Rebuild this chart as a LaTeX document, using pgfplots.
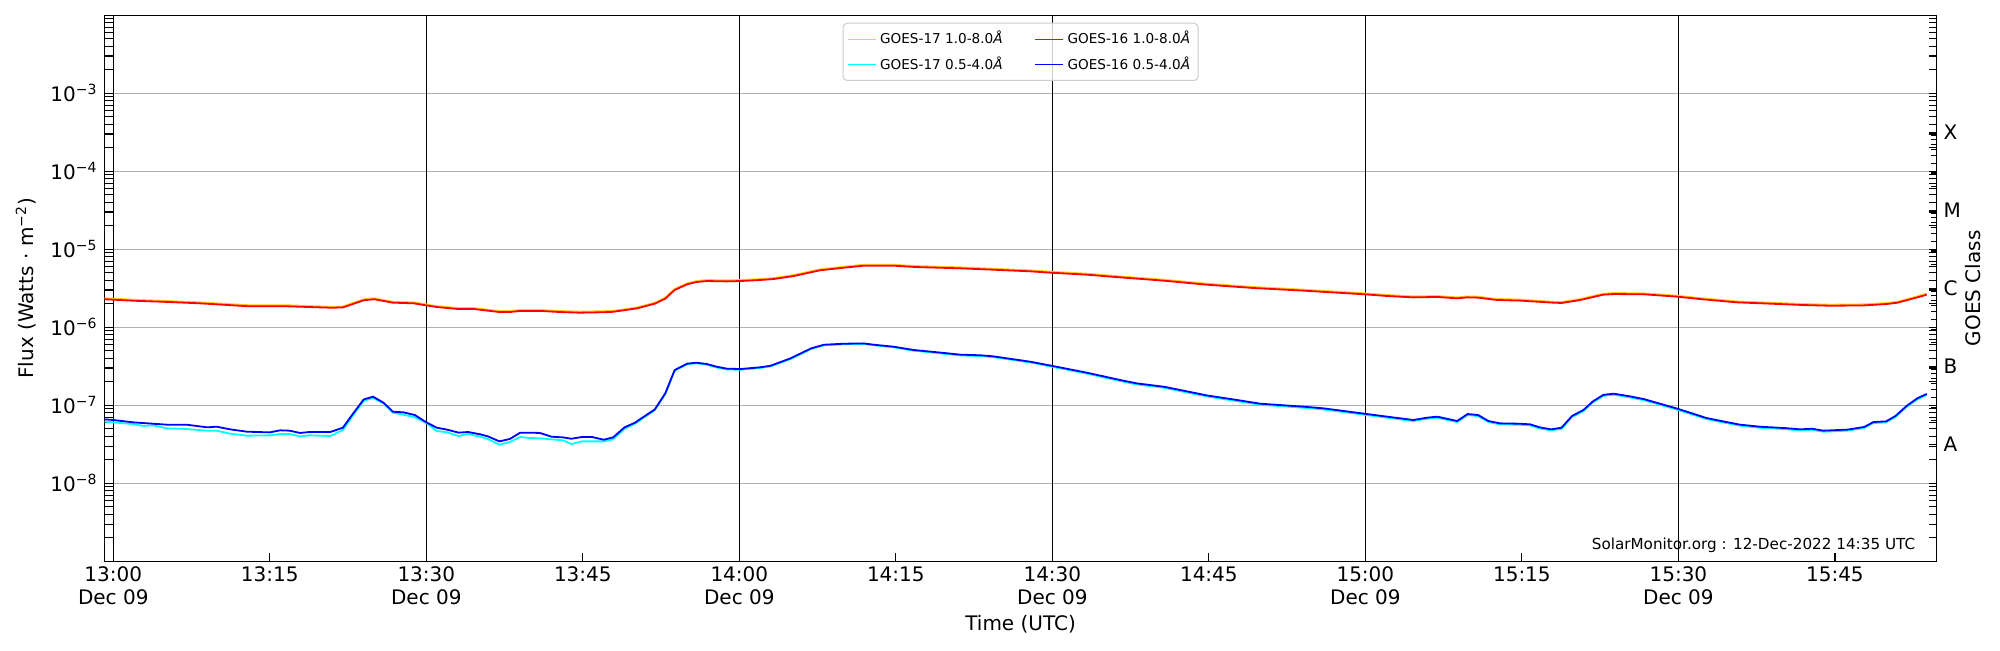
\documentclass[border=0pt]{standalone}
\usepackage{fontspec}
\setmainfont{DejaVu Sans}
\usepackage{pgfplots}
\pgfplotsset{compat=1.18}
\definecolor{gold17}{RGB}{255,205,20}
\definecolor{cyan17}{RGB}{0,255,255}
\definecolor{red16}{RGB}{255,0,0}
\definecolor{blue16}{RGB}{0,0,255}
\definecolor{gridgray}{RGB}{176,176,176}
\definecolor{legframe}{RGB}{204,204,204}

\begin{document}
\begin{tikzpicture}
\path[use as bounding box] (0,0) rectangle (1000pt,325pt);
\begin{axis}[
  at={(52.3pt,44.35pt)}, anchor=south west,
  scale only axis, width=916pt, height=273pt,
  ymode=log, ymin=1e-9, ymax=1e-2,
  xmin=-0.834, xmax=174.75,
  axis line style={line width=0.75pt},
  tick align=inside,
  major tick length=4pt, minor tick length=4pt,
  every tick/.style={black, line width=0.6pt},
  xtick={0,15,...,165},
  xticklabels={{13:00\\Dec 09},13:15,{13:30\\Dec 09},13:45,{14:00\\Dec 09},14:15,{14:30\\Dec 09},14:45,{15:00\\Dec 09},15:15,{15:30\\Dec 09},15:45},
  xtick pos=left,
  xticklabel style={align=center, font=\fontsize{10}{11.5}\selectfont, inner sep=0pt, yshift=-2.7pt},
  extra x ticks={0,30,60,90,120,150},
  extra x tick labels={},
  extra x tick style={grid=major, major grid style={black, line width=0.7pt}},
  ytick={1e-8,1e-7,1e-6,1e-5,1e-4,1e-3},
  yticklabels={10\textsuperscript{−8},10\textsuperscript{−7},10\textsuperscript{−6},10\textsuperscript{−5},10\textsuperscript{−4},10\textsuperscript{−3}},
  minor ytick={2e-9,3e-9,4e-9,5e-9,6e-9,7e-9,8e-9,9e-9,
    2e-8,3e-8,4e-8,5e-8,6e-8,7e-8,8e-8,9e-8,
    2e-7,3e-7,4e-7,5e-7,6e-7,7e-7,8e-7,9e-7,
    2e-6,3e-6,4e-6,5e-6,6e-6,7e-6,8e-6,9e-6,
    2e-5,3e-5,4e-5,5e-5,6e-5,7e-5,8e-5,9e-5,
    2e-4,3e-4,4e-4,5e-4,6e-4,7e-4,8e-4,9e-4,
    2e-3,3e-3,4e-3,5e-3,6e-3,7e-3,8e-3,9e-3},
  ytick pos=both, yticklabel pos=left,
  yticklabel style={font=\fontsize{10}{12}\selectfont},
  ymajorgrids,
  major grid style={gridgray, line width=0.7pt},
  xlabel={Time (UTC)},
  ylabel={Flux (Watts · m\textsuperscript{−2})},
  every axis x label/.style={at={(axis description cs:0.5,0)}, anchor=center, yshift=-31.6pt, font=\fontsize{10}{12}\selectfont},
  every axis y label/.style={at={(axis description cs:-0.043,0.5)}, anchor=center, rotate=90, font=\fontsize{10}{12}\selectfont},
  no markers,
  legend columns=2,
  legend cell align=left,
  legend image code/.code={\draw[#1, line width=0.5pt] (0pt,0pt) -- (14pt,0pt);},
  legend style={at={(axis description cs:0.5,0.9864)}, anchor=north,
    draw=legframe, line width=0.5pt, rounded corners=2pt,
    fill=white, fill opacity=0.8, text opacity=1,
    font=\fontsize{6.8}{8}\selectfont,
    inner xsep=2pt, inner ysep=2pt, row sep=1pt,
    /tikz/every even column/.append style={column sep=14pt}},
]
\addplot[gold17, line width=0.9pt] table {
-0.83 2.36e-6
2 2.26e-6
5 2.18e-6
8.3 2.09e-6
13 1.92e-6
16.6 1.92e-6
21 1.83e-6
22 1.85e-6
24 2.29e-6
25 2.36e-6
26.8 2.13e-6
28.8 2.09e-6
30 1.97e-6
31 1.87e-6
33 1.77e-6
34.5 1.77e-6
37 1.62e-6
38 1.62e-6
39 1.67e-6
41 1.67e-6
42.8 1.62e-6
44.7 1.59e-6
47 1.61e-6
47.9 1.63e-6
50.2 1.80e-6
51.9 2.07e-6
52.9 2.40e-6
53.8 3.10e-6
55.0 3.67e-6
55.9 3.92e-6
56.9 4.04e-6
58.8 4.00e-6
60.1 4.04e-6
62.0 4.16e-6
63.3 4.28e-6
65.2 4.68e-6
67.7 5.53e-6
70.0 5.98e-6
71.9 6.34e-6
74.8 6.34e-6
77.0 6.10e-6
81.2 5.87e-6
84.3 5.64e-6
87.9 5.38e-6
89.9 5.16e-6
93.3 4.87e-6
96.5 4.50e-6
100.7 4.08e-6
104.8 3.63e-6
109.3 3.29e-6
114.1 3.04e-6
119.9 2.73e-6
122.1 2.60e-6
124.6 2.49e-6
126.9 2.52e-6
128.8 2.42e-6
129.8 2.49e-6
130.8 2.47e-6
132.6 2.31e-6
134.8 2.27e-6
138.0 2.13e-6
138.8 2.11e-6
140.6 2.31e-6
142.8 2.70e-6
143.8 2.75e-6
146.7 2.73e-6
149.9 2.54e-6
152.4 2.35e-6
155.6 2.15e-6
158.8 2.07e-6
162.0 1.99e-6
164.6 1.95e-6
167.8 1.97e-6
170.0 2.05e-6
171.0 2.13e-6
172.9 2.49e-6
173.8 2.70e-6
};
\addlegendentry{GOES-17 1.0-8.0\textit{Å}}
\addplot[red16, line width=0.9pt] table {
-0.83 2.29e-6
2 2.19e-6
5 2.12e-6
8.3 2.03e-6
13 1.86e-6
16.6 1.86e-6
21 1.78e-6
22 1.80e-6
24 2.22e-6
25 2.29e-6
26.8 2.07e-6
28.8 2.03e-6
30 1.91e-6
31 1.82e-6
33 1.72e-6
34.5 1.72e-6
37 1.57e-6
38 1.57e-6
39 1.62e-6
41 1.62e-6
42.8 1.57e-6
44.7 1.54e-6
47 1.56e-6
47.9 1.58e-6
50.2 1.75e-6
51.9 2.01e-6
52.9 2.33e-6
53.8 3.01e-6
55.0 3.56e-6
55.9 3.81e-6
56.9 3.92e-6
58.8 3.88e-6
60.1 3.92e-6
62.0 4.04e-6
63.3 4.16e-6
65.2 4.54e-6
67.7 5.37e-6
70.0 5.81e-6
71.9 6.16e-6
74.8 6.16e-6
77.0 5.92e-6
81.2 5.70e-6
84.3 5.48e-6
87.9 5.22e-6
89.9 5.01e-6
93.3 4.73e-6
96.5 4.37e-6
100.7 3.96e-6
104.8 3.52e-6
109.3 3.19e-6
114.1 2.95e-6
119.9 2.65e-6
122.1 2.52e-6
124.6 2.42e-6
126.9 2.45e-6
128.8 2.35e-6
129.8 2.42e-6
130.8 2.40e-6
132.6 2.24e-6
134.8 2.20e-6
138.0 2.07e-6
138.8 2.05e-6
140.6 2.24e-6
142.8 2.62e-6
143.8 2.67e-6
146.7 2.65e-6
149.9 2.47e-6
152.4 2.28e-6
155.6 2.09e-6
158.8 2.01e-6
162.0 1.93e-6
164.6 1.89e-6
167.8 1.91e-6
170.0 1.99e-6
171.0 2.07e-6
172.9 2.42e-6
173.8 2.62e-6
};
\addlegendentry{GOES-16 1.0-8.0\textit{Å}}
\addplot[cyan17, line width=0.9pt] table {
-0.83 6.17e-8
1.9 5.75e-8
2.9 5.43e-8
3.8 5.54e-8
5.1 5.07e-8
7.0 4.97e-8
9.0 4.73e-8
9.9 4.73e-8
11.2 4.33e-8
12.8 4.08e-8
15.0 4.12e-8
16.0 4.29e-8
16.9 4.29e-8
17.9 4.00e-8
18.8 4.12e-8
20.8 4.04e-8
22.0 4.82e-8
23.0 7.51e-8
24.0 1.14e-7
24.9 1.24e-7
25.9 1.06e-7
26.8 8.05e-8
27.8 7.59e-8
28.9 7.02e-8
30.0 5.93e-8
31.0 4.69e-8
32.0 4.50e-8
33.1 4.04e-8
34.0 4.29e-8
35.2 3.96e-8
35.9 3.70e-8
37.0 3.13e-8
38.0 3.38e-8
39.0 3.92e-8
39.9 3.81e-8
40.9 3.77e-8
43.1 3.56e-8
43.9 3.19e-8
44.9 3.45e-8
47.0 3.45e-8
47.9 3.66e-8
49.0 5.01e-8
50.0 5.81e-8
51.9 8.7e-8
52.9 1.40e-7
53.8 2.78e-7
55.0 3.36e-7
55.9 3.46e-7
56.9 3.32e-7
57.8 3.06e-7
58.8 2.88e-7
60.1 2.86e-7
62.0 3.01e-7
63.0 3.16e-7
64.9 3.92e-7
66.9 5.28e-7
68.1 5.88e-7
70.0 6.06e-7
71.9 6.12e-7
72.9 5.88e-7
74.8 5.54e-7
76.7 5.02e-7
79.0 4.68e-7
81.2 4.36e-7
83.1 4.28e-7
84.3 4.15e-7
87.9 3.55e-7
89.9 3.14e-7
93.3 2.55e-7
96.5 2.05e-7
98.1 1.85e-7
100.7 1.68e-7
102.9 1.46e-7
104.8 1.30e-7
107.7 1.13e-7
109.9 1.02e-7
114.1 9.3e-8
116.0 8.85e-8
119.9 7.58e-8
122.1 6.93e-8
124.6 6.28e-8
125.9 6.73e-8
126.9 6.93e-8
128.8 6.10e-8
129.8 7.50e-8
130.8 7.28e-8
131.8 6.10e-8
132.9 5.69e-8
134.8 5.63e-8
135.8 5.53e-8
136.7 5.06e-8
137.8 4.77e-8
138.8 5.00e-8
139.8 7.07e-8
140.9 8.45e-8
141.8 1.09e-7
142.8 1.32e-7
143.8 1.37e-7
145.4 1.26e-7
146.7 1.16e-7
147.9 1.05e-7
149.9 8.78e-8
151.1 7.80e-8
152.7 6.66e-8
154.3 6.03e-8
155.9 5.48e-8
157.8 5.16e-8
160.1 4.96e-8
161.7 4.77e-8
162.8 4.86e-8
163.9 4.59e-8
166.2 4.73e-8
167.8 5.11e-8
168.7 5.93e-8
169.9 6.03e-8
170.8 7.07e-8
171.9 9.59e-8
172.9 1.19e-7
173.8 1.36e-7
};
\addlegendentry{GOES-17 0.5-4.0\textit{Å}}
\addplot[blue16, line width=0.9pt] table {
-0.83 6.61e-8
0 6.48e-8
1.9 6.05e-8
3.8 5.81e-8
5.1 5.65e-8
7.0 5.65e-8
9.0 5.22e-8
9.9 5.32e-8
11.2 4.92e-8
12.8 4.59e-8
15.0 4.50e-8
16.0 4.78e-8
16.9 4.73e-8
17.9 4.42e-8
18.8 4.55e-8
20.8 4.55e-8
22.0 5.16e-8
23.0 7.89e-8
24.0 1.19e-7
24.9 1.29e-7
25.9 1.08e-7
26.8 8.28e-8
27.8 8.13e-8
28.9 7.51e-8
30.0 6.05e-8
31.0 5.17e-8
32.0 4.87e-8
33.1 4.46e-8
34.0 4.55e-8
35.2 4.24e-8
35.9 4.00e-8
37.0 3.45e-8
38.0 3.70e-8
39.0 4.46e-8
39.9 4.46e-8
40.9 4.42e-8
42.0 3.96e-8
43.1 3.88e-8
43.9 3.73e-8
44.9 3.92e-8
45.9 3.92e-8
47.0 3.62e-8
47.9 3.88e-8
49.0 5.22e-8
50.0 5.99e-8
51.9 8.87e-8
52.9 1.42e-7
53.8 2.83e-7
55.0 3.42e-7
55.9 3.52e-7
56.9 3.38e-7
57.8 3.13e-7
58.8 2.95e-7
60.1 2.92e-7
62.0 3.07e-7
63.0 3.22e-7
64.9 4.00e-7
66.9 5.38e-7
68.1 5.98e-7
70.0 6.16e-7
71.9 6.22e-7
72.9 5.98e-7
74.8 5.64e-7
76.7 5.12e-7
79.0 4.78e-7
81.2 4.46e-7
83.1 4.38e-7
84.3 4.25e-7
87.9 3.62e-7
89.9 3.22e-7
93.3 2.62e-7
96.5 2.11e-7
98.1 1.91e-7
100.7 1.73e-7
102.9 1.51e-7
104.8 1.34e-7
107.7 1.17e-7
109.9 1.05e-7
114.1 9.6e-8
116.0 9.14e-8
119.9 7.81e-8
122.1 7.15e-8
124.6 6.48e-8
125.9 6.94e-8
126.9 7.15e-8
128.8 6.29e-8
129.8 7.73e-8
130.8 7.51e-8
131.8 6.29e-8
132.9 5.87e-8
134.8 5.81e-8
135.8 5.70e-8
136.7 5.22e-8
137.8 4.92e-8
138.8 5.16e-8
139.8 7.29e-8
140.9 8.71e-8
141.8 1.12e-7
142.8 1.36e-7
143.8 1.41e-7
145.4 1.30e-7
146.7 1.20e-7
147.9 1.08e-7
149.9 9.06e-8
151.1 8.05e-8
152.7 6.87e-8
154.3 6.22e-8
155.9 5.65e-8
157.8 5.32e-8
160.1 5.12e-8
161.7 4.92e-8
162.8 5.01e-8
163.9 4.73e-8
166.2 4.88e-8
167.8 5.27e-8
168.7 6.11e-8
169.9 6.22e-8
170.8 7.29e-8
171.9 9.89e-8
172.9 1.23e-7
173.8 1.40e-7
};
\addlegendentry{GOES-16 0.5-4.0\textit{Å}}
\node[anchor=base east, inner sep=0pt, font=\fontsize{7.6}{9}\selectfont] at (axis description cs:0.9885,0.02145) {SolarMonitor.org : 12-Dec-2022 14:35 UTC};
\end{axis}
\begin{axis}[
  at={(52.3pt,44.35pt)}, anchor=south west,
  scale only axis, width=916pt, height=273pt,
  ymode=log, ymin=1e-9, ymax=1e-2,
  xmin=-0.834, xmax=174.75,
  hide x axis,
  axis y line*=right,
  axis line style={line width=0.75pt},
  tick align=inside,
  major tick length=4pt,
  every tick/.style={black, line width=0.6pt},
  ytick={3.1623e-8,3.1623e-7,3.1623e-6,3.1623e-5,3.1623e-4},
  yticklabels={A,B,C,M,X},
  minor ytick={},
  yticklabel style={font=\fontsize{10}{12}\selectfont},
  ylabel={GOES Class},
  every axis y label/.style={at={(axis description cs:1.0199,0.5)}, anchor=center, rotate=90, font=\fontsize{10}{12}\selectfont},
]
\addplot[draw=none, forget plot] coordinates {(0,1e-6)};
\end{axis}
\end{tikzpicture}
\end{document}
